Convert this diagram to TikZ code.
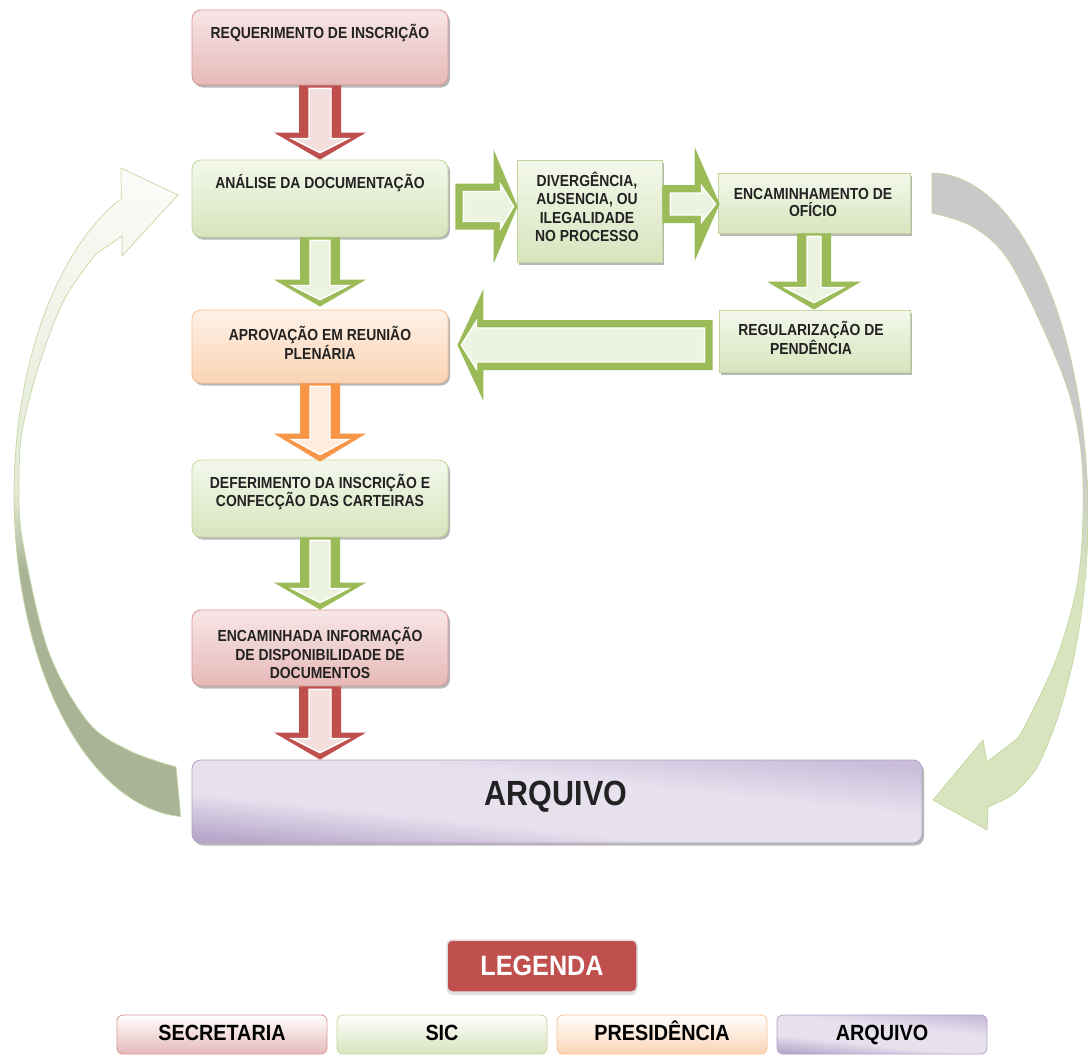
\documentclass[tikz,border=0pt]{standalone}
\usepackage{fontspec}
\setmainfont{Liberation Sans}
\newfontfamily\boxfont[FakeStretch=0.87]{Liberation Sans}
\newfontfamily\legfont[FakeStretch=0.9]{Liberation Sans}
\usetikzlibrary{calc,shadows}

\definecolor{pinkT}{HTML}{F8E6E6}
\definecolor{pinkB}{HTML}{E6B9B8}
\definecolor{pinkD}{HTML}{D99694}
\definecolor{grnT}{HTML}{F4F8EC}
\definecolor{grnB}{HTML}{D7E4BD}
\definecolor{grnD}{HTML}{C3D69B}
\definecolor{orT}{HTML}{FEF1E7}
\definecolor{orB}{HTML}{FBD4B4}
\definecolor{orD}{HTML}{FAC090}
\definecolor{puT}{HTML}{E7E1EE}
\definecolor{puB}{HTML}{B7A7CB}
\definecolor{puM}{HTML}{C9BDDA}
\definecolor{puD}{HTML}{B3A2C7}
\definecolor{redA}{HTML}{C0504D}
\definecolor{grnA}{HTML}{9BBB59}
\definecolor{orA}{HTML}{F79646}
\definecolor{txt}{HTML}{222222}
\definecolor{arcDk}{HTML}{A9B496}
\definecolor{arcMd}{HTML}{E3EAD6}
\definecolor{arcWh}{HTML}{FBFCF8}
\definecolor{arcEdge}{HTML}{C5D7A3}
\definecolor{rgGr}{HTML}{D7E4BD}
\definecolor{rgGy}{HTML}{C9C9C9}

\pgfdeclareverticalshading{leftarc}{100bp}{color(0bp)=(arcDk); color(25bp)=(arcDk); color(44bp)=(arcDk); color(50bp)=(arcMd); color(75bp)=(arcWh); color(100bp)=(arcWh)}
\pgfdeclareverticalshading{rightarc}{100bp}{color(0bp)=(rgGr); color(44bp)=(rgGr); color(53bp)=(rgGy); color(100bp)=(rgGy)}
\pgfdeclareverticalshading{arqsh}{100bp}{color(0bp)=(puB); color(25bp)=(puB); color(40bp)=(puT); color(58bp)=(puT); color(75bp)=(puM); color(100bp)=(puM)}

\tikzset{
  boxshadow/.style={drop shadow={shadow xshift=2pt, shadow yshift=-2.5pt, fill=black, opacity=0.28}},
  flowbox/.style={line width=0.8pt, rounded corners=9pt, minimum width=256pt, inner sep=0pt, boxshadow},
  pinkbox/.style={flowbox, draw=pinkD, top color=pinkT, bottom color=pinkB},
  greenbox/.style={flowbox, draw=grnD, top color=grnT, bottom color=grnB},
  orangebox/.style={flowbox, draw=orD, top color=orT, bottom color=orB},
  sqbox/.style={draw=grnD, line width=0.8pt, top color=grnT, bottom color=grnB, inner sep=0pt, boxshadow},
  arqbox/.style={draw=puD, line width=0.8pt, rounded corners=9pt, shading=arqsh, shading angle=-6, inner sep=0pt, boxshadow},
  boxtxt/.style={font={\boxfont\bfseries\fontsize{16}{18.5}\selectfont}, text=txt, align=center, inner sep=0pt},
  legbox/.style={rounded corners=6pt, line width=0.8pt, minimum width=210pt, minimum height=39pt, inner sep=0pt,
     text height=16pt, text depth=4pt,
     font={\legfont\bfseries\fontsize{22}{26}\selectfont}, text=black},
}

% vertical block arrow: start, tip, shaft half, head half, head length, colour
\newcommand\vblk[6]{%
  \fill[#6] let \p1=#1, \p2=#2 in
    ({\x1-#3pt},\y1) -- ({\x1+#3pt},\y1) -- ({\x1+#3pt},{\y2+#5pt}) -- ({\x1+#4pt},{\y2+#5pt})
    -- (\x1,\y2) -- ({\x1-#4pt},{\y2+#5pt}) -- ({\x1-#3pt},{\y2+#5pt}) -- cycle;
  \draw[white, line width=1.4pt, fill=#6!18] let \p1=#1, \p2=#2 in
    ({\x1-(#3-10)*1pt},{\y1-3pt}) -- ({\x1-(#3-10)*1pt},{\y2+(#5-6)*1pt}) -- ({\x1-(#4-18)*1pt},{\y2+(#5-6)*1pt})
    -- (\x1,{\y2+7pt}) -- ({\x1+(#4-18)*1pt},{\y2+(#5-6)*1pt}) -- ({\x1+(#3-10)*1pt},{\y2+(#5-6)*1pt})
    -- ({\x1+(#3-10)*1pt},{\y1-3pt}) -- cycle;
}
% horizontal block arrow: start, tip, shaft half, head half, head length, sign, colour
\newcommand\hblk[7]{%
  \fill[#7] let \p1=#1, \p2=#2 in
    (\x1,{\y1+#3pt}) -- ({\x2-(#6)*#5pt},{\y1+#3pt}) -- ({\x2-(#6)*#5pt},{\y1+#4pt}) -- (\x2,\y1)
    -- ({\x2-(#6)*#5pt},{\y1-#4pt}) -- ({\x2-(#6)*#5pt},{\y1-#3pt}) -- (\x1,{\y1-#3pt}) -- cycle;
  \draw[white, line width=1.4pt, fill=#7!18] let \p1=#1, \p2=#2 in
    ({\x1+(#6)*8pt},{\y1+(#3-8)*1pt}) -- ({\x2-(#6)*(#5-7)*1pt},{\y1+(#3-8)*1pt}) -- ({\x2-(#6)*(#5-7)*1pt},{\y1+(#3-1)*1pt})
    -- ({\x2-(#6)*4pt},\y1) -- ({\x2-(#6)*(#5-7)*1pt},{\y1-(#3-1)*1pt}) -- ({\x2-(#6)*(#5-7)*1pt},{\y1-(#3-8)*1pt})
    -- ({\x1+(#6)*8pt},{\y1-(#3-8)*1pt}) -- cycle;
}

\begin{document}
\begin{tikzpicture}[x=1pt,y=-1pt]
\useasboundingbox (0,0) rectangle (1088,1055);
\fill[white] (0,0) rectangle (1088,1055);

% curved return arrow (left): outer edge is an ellipse arc
\path[shading=leftarc, draw=arcEdge, line width=0.7pt]
  plot[domain=93:247, samples=60] ({190+176*cos(\x)},{495+322*sin(\x)})
  -- (121,168) -- (178,195) -- (122,256) -- (122,236)
  -- plot[smooth, tension=0.55] coordinates {(96,254) (64,300) (39,365) (22,432) (19,490) (23,543) (48,650) (88,722) (130,751) (176,767)}
  -- cycle;

% curved arrow (right)
\path[shading=rightarc, draw=arcEdge, line width=0.7pt]
  plot[domain=-90:48, samples=60] ({932+156*cos(\x)},{515+342*sin(\x)})
  .. controls (1015,795) .. (988,807)
  -- (987,830) -- (933,800) -- (983,740) -- (987,762)
  -- plot[smooth, tension=0.55] coordinates {(1018,738) (1030,716) (1057,657) (1077,586) (1083,515) (1080,444) (1062,373) (1012,266) (975,228) (932,213)}
  -- cycle;

% boxes
\node[pinkbox, minimum height=75pt] (b1) at (320,47.5) {};
\node[greenbox, minimum height=77pt] (b2) at (320,198.5) {};
\node[orangebox, minimum height=73pt] (b3) at (320,346.5) {};
\node[greenbox, minimum height=77pt] (b4) at (320,498.5) {};
\node[pinkbox, minimum height=76pt] (b5) at (320,648) {};
\node[sqbox, minimum width=145pt, minimum height=102pt] (div) at (589.5,211) {};
\node[sqbox, minimum width=192pt, minimum height=60pt] (enc) at (814,203) {};
\node[sqbox, minimum width=191pt, minimum height=62pt] (reg) at (814.5,341) {};
\node[arqbox, minimum width=730pt, minimum height=83pt] (arq) at (557,801.5) {};

% texts
\node[boxtxt] (t1) at (320,33) {REQUERIMENTO DE INSCRIÇÃO};
\node[boxtxt] (t2) at (320,183) {ANÁLISE DA DOCUMENTAÇÃO};
\node[boxtxt] (t3) at (320,343) {APROVAÇÃO EM REUNIÃO\\PLENÁRIA};
\node[boxtxt] (t4) at (320,492) {DEFERIMENTO DA INSCRIÇÃO E\\CONFECÇÃO DAS CARTEIRAS};
\node[boxtxt] (t5) at (320,653) {ENCAMINHADA INFORMAÇÃO\\DE DISPONIBILIDADE DE\\DOCUMENTOS};
\node[boxtxt] (t6) at (587,207) {DIVERGÊNCIA,\\AUSENCIA, OU\\ILEGALIDADE\\NO PROCESSO};
\node[boxtxt, font={\boxfont\bfseries\fontsize{16}{17}\selectfont}] (t7) at (813,202) {ENCAMINHAMENTO DE\\OFÍCIO};
\node[boxtxt, font={\boxfont\bfseries\fontsize{16}{17.5}\selectfont}] (t8) at (811,338) {REGULARIZAÇÃO DE\\PENDÊNCIA};
\node[boxtxt, font={\boxfont\bfseries\fontsize{35}{40}\selectfont}] (t9) at (556,797) {ARQUIVO};

% block arrows
\vblk{(b1.south)}{(b2.north)}{21}{46}{27}{redA}
\vblk{(b2.south)}{($(b3.north)+(0,-3)$)}{20}{46}{27}{grnA}
\vblk{(b3.south)}{($(b4.north)+(0,2)$)}{20}{46}{28}{orA}
\vblk{(b4.south)}{(b5.north)}{20}{46}{27}{grnA}
\vblk{(b5.south)}{(arq.north -| b5.south)}{21}{46}{27}{redA}
\vblk{(enc.south)}{(reg.north)}{17}{47}{28}{grnA}
\hblk{($(b2.east)+(7,8)$)}{($(div.west)+(1,-4.5)$)}{23}{57}{24}{1}{grnA}
\hblk{($(div.east)+(0,-7)$)}{($(enc.west)+(2,1)$)}{19}{57}{25}{1}{grnA}
\hblk{($(reg.west)+(-6,4)$)}{($(b3.east)+(9,-1.5)$)}{25}{56}{26}{-1}{grnA}

% legend
\node[fill=redA, draw=white!88!black, line width=1.5pt, rounded corners=5pt, minimum width=190pt, minimum height=52pt,
      inner sep=0pt, text=white, font={\legfont\bfseries\fontsize{28}{32}\selectfont},
      drop shadow={shadow xshift=0pt, shadow yshift=-3pt, fill=black, opacity=0.12}] (leg) at (542,966) {LEGENDA};
\node[legbox, draw=pinkD, top color=white, bottom color=pinkB] (l1) at (222,1034.5) {SECRETARIA};
\node[legbox, draw=grnD, top color=white, bottom color=grnB] (l2) at (442,1034.5) {SIC};
\node[legbox, draw=orD, top color=white, bottom color=orB] (l3) at (662,1034.5) {PRESIDÊNCIA};
\node[legbox, draw=puD, shading=arqsh, shading angle=-6] (l4) at (882,1034.5) {ARQUIVO};
\end{tikzpicture}
\end{document}
